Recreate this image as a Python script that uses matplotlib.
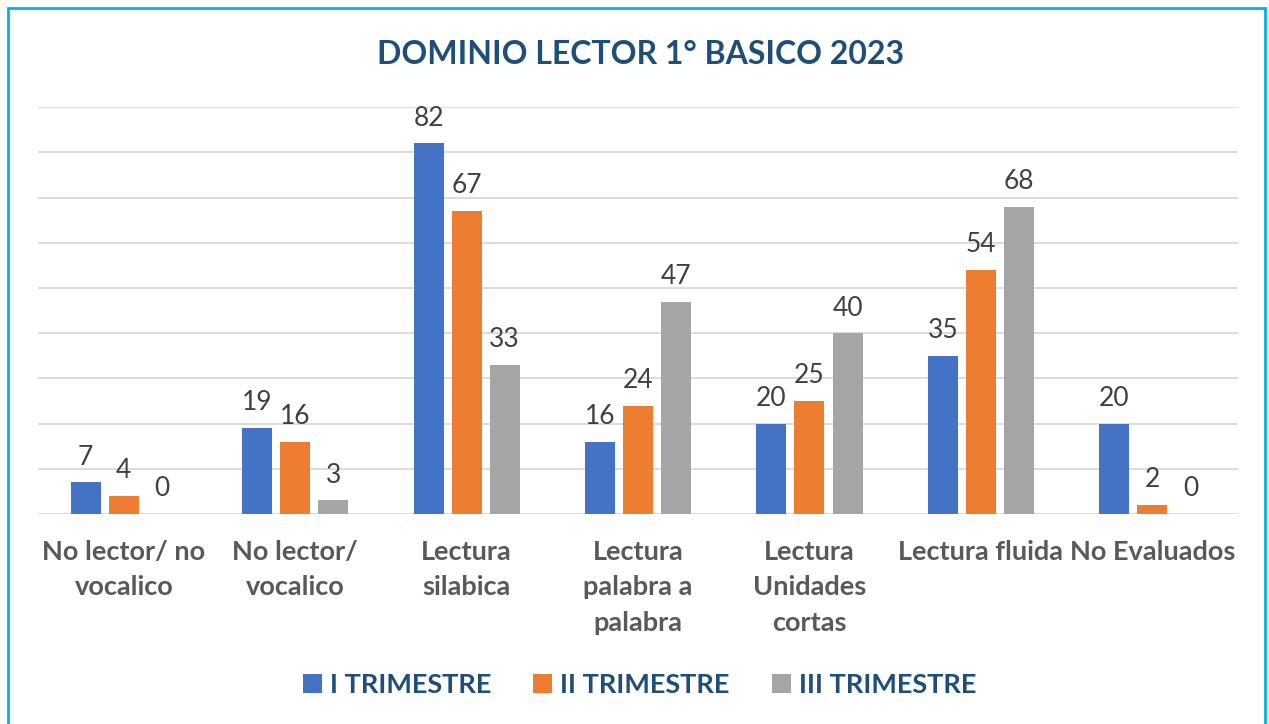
import matplotlib.pyplot as plt
import numpy as np
from matplotlib.patches import Rectangle

plt.rcParams['font.family'] = ['Lato', 'DejaVu Sans']

categorias = ['No lector/ no\nvocalico', 'No lector/\nvocalico', 'Lectura\nsilabica',
              'Lectura\npalabra a\npalabra', 'Lectura\nUnidades\ncortas', 'Lectura fluida',
              'No Evaluados']
trim1 = [7, 19, 82, 16, 20, 35, 20]
trim2 = [4, 16, 67, 24, 25, 54, 2]
trim3 = [0, 3, 33, 47, 40, 68, 0]
series = ['I TRIMESTRE', 'II TRIMESTRE', 'III TRIMESTRE']
colores = ['#4472C4', '#ED7D31', '#A5A5A5']

fig = plt.figure(figsize=(12.69, 7.24), dpi=100)
ax = fig.add_axes([0.030, 0.290, 0.9456, 0.562])

x = np.arange(len(categorias))
w = 0.175
paso = 0.222
for i, (vals, nombre, c) in enumerate(zip([trim1, trim2, trim3], series, colores)):
    barras = ax.bar(x + (i - 1) * paso, vals, w, color=c, label=nombre, zorder=3)
    for b, v in zip(barras, vals):
        ax.text(b.get_x() + b.get_width() / 2, v + 2.8, str(v), ha='center', va='bottom',
                fontsize=19, color='#404040')

ax.set_xlim(-0.5, len(categorias) - 0.5)
ax.set_ylim(0, 90)
ax.set_yticks(np.arange(0, 91, 10))
ax.yaxis.grid(True, color='#D9D9D9', linewidth=1.3, zorder=0)
ax.tick_params(left=False, bottom=False, labelleft=False)
ax.set_xticks(x)
ax.set_xticklabels(categorias, fontsize=19.5, fontweight='bold', color='#595959',
                   linespacing=1.58, va='top')
ax.tick_params(axis='x', pad=15)
for s in ax.spines.values():
    s.set_visible(False)

fig.suptitle('DOMINIO LECTOR 1° BASICO 2023', x=0.505, y=0.945, fontsize=23,
             fontweight='bold', color='#1F4E79')

fig.legend(loc='center', bbox_to_anchor=(0.504, 0.054), ncol=3, frameon=False,
           handlelength=0.7, handleheight=0.75, handletextpad=0.3,
           columnspacing=1.55, prop={'weight': 'bold', 'size': 19.5})
for t in fig.legends[0].get_texts():
    t.set_color('#1F4E79')

fig.patches.append(Rectangle((0.0065, -0.02), 0.9905, 1.0085, transform=fig.transFigure,
                             fill=False, edgecolor='#00B0F0', linewidth=2))

fig.savefig('out.png', dpi=100)
